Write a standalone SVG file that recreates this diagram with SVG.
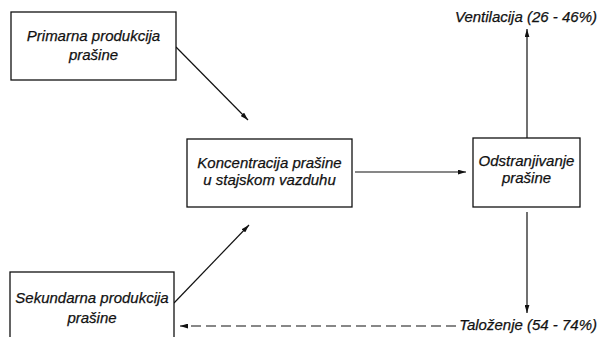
<svg xmlns="http://www.w3.org/2000/svg" width="598" height="337" viewBox="0 0 598 337">
<style>
.box{fill:#fff;stroke:#111;stroke-width:1.3}
.t{font-family:"Liberation Sans",Arial,sans-serif;font-style:italic;font-size:15px;fill:#111;stroke:#111;stroke-width:0.25;text-anchor:middle}
.e{text-anchor:end}
.c{stroke:#111;stroke-width:1.2;fill:none}
.d{stroke-dasharray:10,5}
</style>
<defs>
<marker id="ah" viewBox="0 0 10 6" refX="10" refY="3" markerWidth="8" markerHeight="5" markerUnits="userSpaceOnUse" orient="auto">
<path d="M0,0 L10,3 L0,6 z" fill="#111"/>
</marker>
</defs>
<rect width="598" height="337" fill="#fff"/>
<g id="connectors">
<line class="c" x1="176" y1="47" x2="248" y2="120" marker-end="url(#ah)"/>
<line class="c" x1="174" y1="303" x2="249" y2="225" marker-end="url(#ah)"/>
<line class="c" x1="355" y1="172" x2="466" y2="172" marker-end="url(#ah)"/>
<line class="c" x1="527" y1="138" x2="527" y2="29" marker-end="url(#ah)"/>
<line class="c" x1="527" y1="212" x2="527" y2="313" marker-end="url(#ah)"/>
<line class="c d" x1="456" y1="326" x2="180" y2="326" marker-end="url(#ah)"/>
</g>
<g id="primarna">
<rect class="box" x="11" y="12" width="165" height="68"/>
<text class="t" x="93.5" y="41">Primarna produkcija</text>
<text class="t" x="93.5" y="60">prašine</text>
</g>
<g id="koncentracija">
<rect class="box" x="187" y="139" width="165" height="68"/>
<text class="t" x="269.5" y="168">Koncentracija prašine</text>
<text class="t" x="269.5" y="185">u stajskom vazduhu</text>
</g>
<g id="odstranjivanje">
<rect class="box" x="473" y="138" width="107" height="69"/>
<text class="t" x="526.5" y="166">Odstranjivanje</text>
<text class="t" x="526.5" y="183">prašine</text>
</g>
<g id="sekundarna">
<rect class="box" x="10" y="272" width="164" height="70"/>
<text class="t" x="92" y="303">Sekundarna produkcija</text>
<text class="t" x="92" y="323">prašine</text>
</g>
<g id="ventilacija">
<text class="t e" x="597" y="22">Ventilacija (26 - 46%)</text>
</g>
<g id="talozenje">
<text class="t e" x="597" y="330">Taloženje (54 - 74%)</text>
</g>
</svg>
